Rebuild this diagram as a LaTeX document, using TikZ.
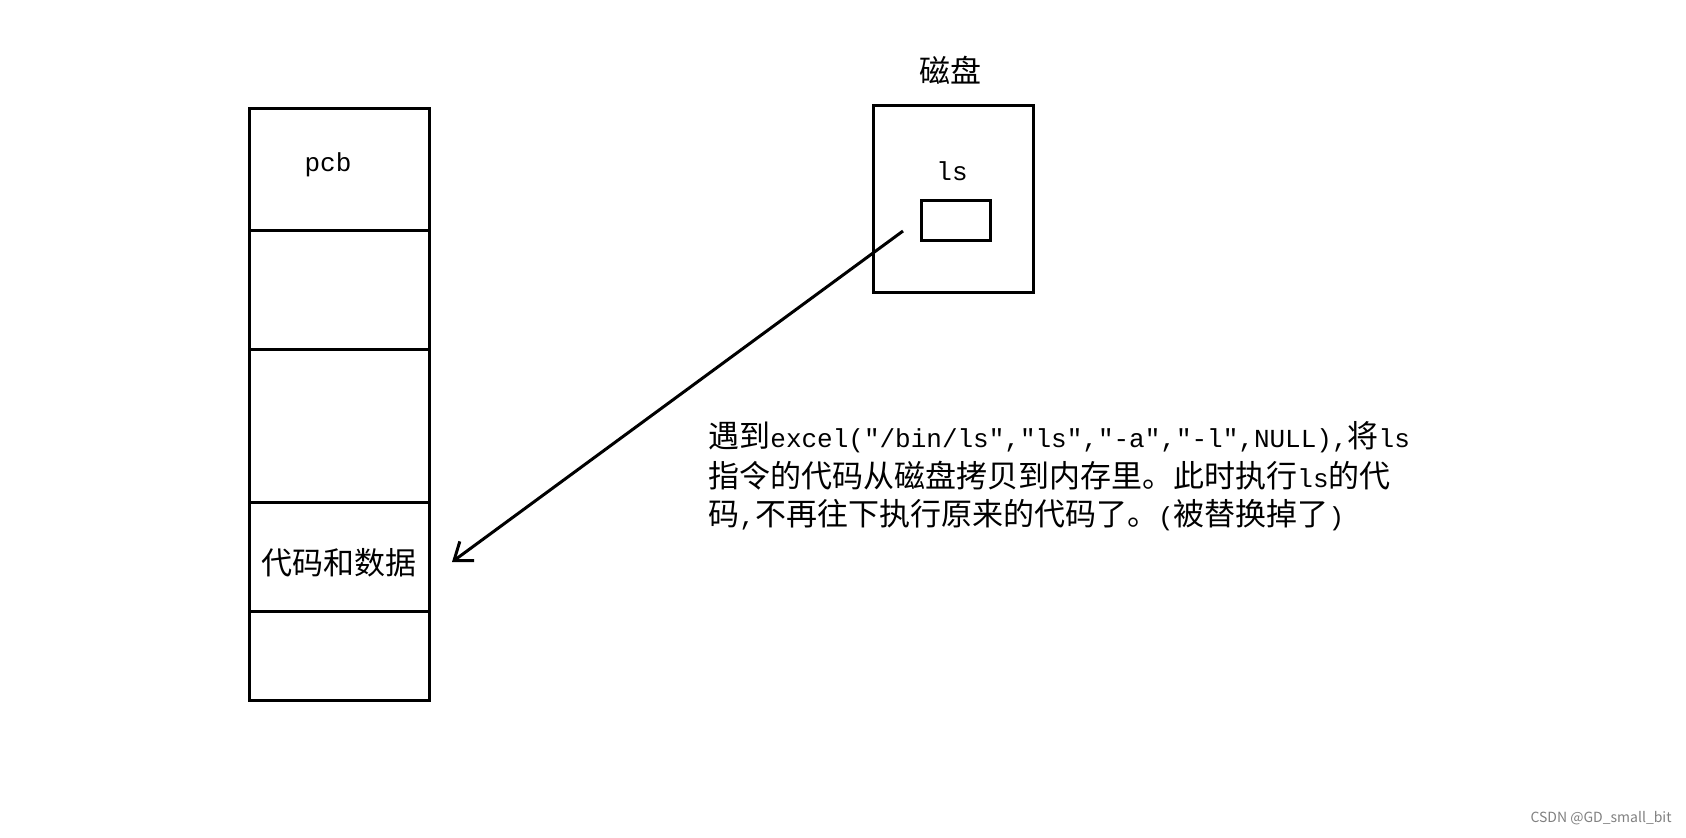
\documentclass[tikz,border=0pt]{standalone}
\usepackage{fontspec}
\newfontfamily\cjk{Noto Sans CJK SC}
\newfontfamily\mono{Liberation Mono}
\newcommand{\mm}[1]{{\mono\fontsize{13}{15}\selectfont #1}}
\usetikzlibrary{arrows.meta}
\begin{document}
\begin{tikzpicture}[x=0.5pt,y=-0.5pt,
  box/.style={line width=1.5pt},
  lbl/.style={font=\cjk\fontsize{15.5}{18}\selectfont,inner sep=0pt},
  para/.style={font=\cjk\fontsize{15.5}{18}\selectfont,inner sep=0pt,anchor=west}]
\useasboundingbox (0,0) rectangle (1686,837);
\draw[box] (249,108) rectangle (429,700);
\foreach \y in {230,349,502,611} \draw[box] (249,\y) -- (429,\y);
\node[lbl] (pcb) at (328,165) {\mm{pcb}};
\node[lbl] (code) at (339,563) {代码和数据};
\draw[box] (873,105) rectangle (1033,292);
\node[lbl] (disk) at (950,70) {磁盘};
\node[lbl] (ls) at (952,171) {\mm{ls}};
\draw[box] (921,200) rectangle (990,240);
\coordinate (s) at (903,231);
\coordinate (e) at (452,562);
\draw[line width=1.5pt,-{Straight Barb[length=8pt,width=12pt]}] (s) -- (e);
\node[para] (t1) at (708,437) {遇到\mm{excel("/bin/ls","ls","-a","-l",NULL),}将\mm{ls}};
\node[para] (t2) at (708,476) {指令的代码从磁盘拷贝到内存里。此时执行\mm{ls}的代};
\node[para] (t3) at (708,515) {码\mm{,}不再往下执行原来的代码了。\mm{(}被替换掉了\mm{)}};
\node[font=\cjk\fontsize{7}{8}\selectfont,text=gray,anchor=east,inner sep=0pt] (wm) at (1672,818) {CSDN @GD\_small\_bit};
\end{tikzpicture}
\end{document}
